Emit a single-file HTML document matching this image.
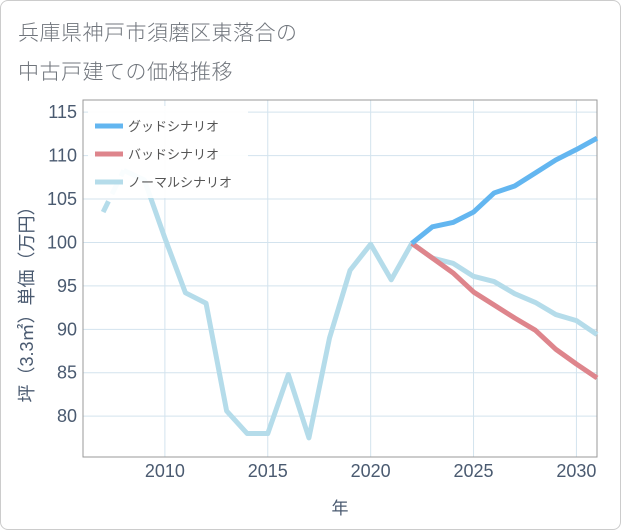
<!DOCTYPE html>
<html><head><meta charset="utf-8"><style>
body{margin:0;background:#fff;font-family:"Liberation Sans","Noto Sans CJK JP",sans-serif;}
#wrap{position:relative;width:619px;height:528px;border:1px solid #ccc;border-radius:8px;overflow:hidden;background:#fff;}
.title{position:absolute;left:17px;font-size:21px;color:#70757c;letter-spacing:0.5px;font-weight:300;}
</style></head><body>
<div id="wrap">
<div class="title" style="top:16px">兵庫県神戸市須磨区東落合の</div>
<div class="title" style="top:55px">中古戸建ての価格推移</div>
<svg id="chart" width="621" height="530" style="position:absolute;left:-1px;top:-1px"></svg>
</div>
<script>
const years=[2007,2008,2009,2010,2011,2012,2013,2014,2015,2016,2017,2018,2019,2020,2021,2022,2023,2024,2025,2026,2027,2028,2029,2030,2031];
const normal=[103.5,108.3,107.2,100.5,94.2,93.0,80.6,78.0,78.0,84.8,77.5,89.0,96.8,99.8,95.7,99.9,98.2,97.6,96.1,95.5,94.1,93.1,91.7,91.0,89.4];
const goodYears=[2022,2023,2024,2025,2026,2027,2028,2029,2030,2031];
const good=[99.9,101.8,102.3,103.5,105.7,106.5,108.0,109.5,110.7,112.0];
const bad=[99.9,98.2,96.5,94.3,92.8,91.3,89.9,87.7,86.0,84.4];
const yTicks=[80,85,90,95,100,105,110,115];
const xTicks=[2010,2015,2020,2025,2030];
const L=83,R=597,T=100,B=457;
const x=v=>L+(v-2006.02)*(R-L)/(2031-2006.02);
const y=v=>B-(v-75.3)*(B-T)/(116.4-75.3);
const svg=document.getElementById('chart');const NS='http://www.w3.org/2000/svg';
function mk(tag,attrs,parent){const e=document.createElementNS(NS,tag);for(const k in attrs)e.setAttribute(k,attrs[k]);(parent||svg).appendChild(e);return e;}
yTicks.forEach(t=>{const g=mk('line',{x1:L,x2:R,y1:y(t),y2:y(t),stroke:'#d3e3ee','stroke-width':1});


const tx=mk('text',{x:77,y:y(t)+6,'text-anchor':'end','font-size':18,fill:'#4a5a70'});tx.textContent=t;

});
xTicks.forEach(t=>{const g=mk('line',{x1:x(t),x2:x(t),y1:T,y2:B,stroke:'#d3e3ee','stroke-width':1});


const tx=mk('text',{x:x(t),y:477,'text-anchor':'middle','font-size':18,fill:'#4a5a70'});tx.textContent=t;

});
const frame=mk('rect',{x:L,y:T,width:R-L,height:B-T,fill:'none',stroke:'#999','stroke-width':1});


function line(xs,vs,color,name,dashFirst){
 let pts=xs.map((t,i)=>x(t)+','+y(vs[i]));
 if(dashFirst){const d=mk('polyline',{points:pts.slice(0,2).join(' '),fill:'none',stroke:color,'stroke-width':5,'stroke-dasharray':'12,8'});
  
  
  pts=pts.slice(1);}
 const p=mk('polyline',{points:pts.join(' '),fill:'none',stroke:color,'stroke-width':5,'stroke-linejoin':'round'});
 
 }
line(years,normal,'#b5dcea','normal-scenario-line',true);
line(goodYears,bad,'#de858c','bad-scenario-line');
line(goodYears,good,'#63b6f0','good-scenario-line');
const lg=mk('rect',{x:88,y:106,width:160,height:92,fill:'#fff','fill-opacity':0.92});


[['グッドシナリオ','#63b6f0'],['バッドシナリオ','#de858c'],['ノーマルシナリオ','#b5dcea']].forEach((e,i)=>{
 const yy=126+i*28;
 const s=mk('line',{x1:95,x2:123,y1:yy,y2:yy,stroke:e[1],'stroke-width':5});
 
 
 const t=mk('text',{x:128,y:yy+5,'font-size':13,fill:'#555'});t.textContent=e[0];
 
 });
const yt=mk('text',{transform:'translate(33,300) rotate(-90)','text-anchor':'middle','font-size':18,fill:'#4a5a70'});yt.textContent='坪（3.3㎡）単価（万円）';


const xt=mk('text',{x:340,y:514,'text-anchor':'middle','font-size':17,fill:'#4a5a70'});xt.textContent='年';


</script>
</body></html>
